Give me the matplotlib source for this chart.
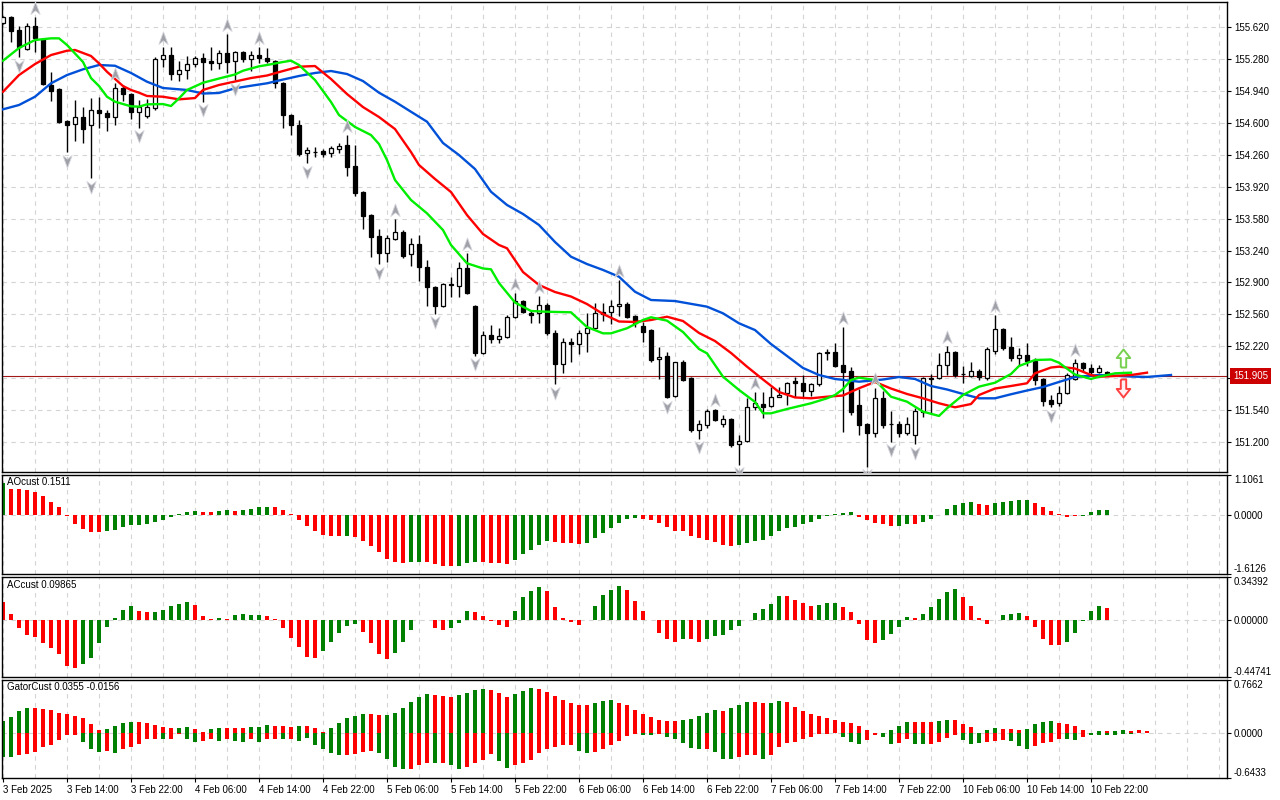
import numpy as np
import matplotlib.pyplot as plt
from matplotlib.path import Path
from matplotlib.transforms import offset_copy, blended_transform_factory

plt.rcParams['font.family'] = ['Liberation Sans', 'DejaVu Sans']
plt.rcParams['font.size'] = 7

# ---------------- data (USDJPY H1) ----------------
opens = [155.663, 155.727, 155.589, 155.386, 155.631, 155.493, 155.003, 154.960, 154.619, 154.587,
         154.662, 154.577, 154.736, 154.705, 154.662, 154.971, 154.907, 154.715, 154.673, 154.758,
         155.280, 155.322, 155.120, 155.163, 155.226, 155.290, 155.258, 155.237, 155.344, 155.258,
         155.354, 155.280, 155.322, 155.290, 155.258, 155.024, 154.683, 154.577, 154.279, 154.289,
         154.300, 154.279, 154.321, 154.364, 154.140, 153.863, 153.618, 153.395, 153.214, 153.363,
         153.437, 153.203, 153.309, 153.064, 152.851, 152.649, 152.878, 152.862, 153.054, 152.649,
         152.149, 152.340, 152.298, 152.319, 152.532, 152.702, 152.574, 152.574, 152.660, 152.362,
         152.031, 152.266, 152.244, 152.362, 152.415, 152.585, 152.585, 152.649, 152.670, 152.543,
         152.436, 152.393, 152.085, 152.117, 151.691, 152.053, 151.882, 151.329, 151.382, 151.542,
         151.392, 151.446, 151.179, 151.211, 151.573, 151.605, 151.584, 151.680, 151.723, 151.845,
         151.829, 151.744, 151.818, 152.159, 152.159, 152.021, 151.957, 151.595, 151.392, 151.297,
         151.669, 151.392, 151.392, 151.297, 151.275, 151.520, 151.872, 151.882, 152.021, 152.159,
         151.925, 151.904, 151.957, 151.882, 152.170, 152.404, 152.212, 152.095, 152.127, 152.063,
         151.872, 151.648, 151.616, 151.723, 151.872, 152.042, 151.989, 151.946, 151.950]
highs = [155.737, 155.737, 155.631, 155.663, 155.727, 155.503, 155.141, 154.971, 154.630, 154.843,
         154.768, 154.864, 154.875, 154.736, 155.024, 155.003, 154.918, 154.843, 154.854, 155.301,
         155.407, 155.407, 155.258, 155.312, 155.312, 155.344, 155.407, 155.376, 155.546, 155.365,
         155.365, 155.365, 155.407, 155.397, 155.269, 155.034, 154.694, 154.630, 154.342, 154.342,
         154.321, 154.353, 154.385, 154.470, 154.364, 153.873, 153.629, 153.469, 153.405, 153.576,
         153.458, 153.373, 153.405, 153.139, 152.862, 152.894, 152.958, 153.118, 153.214, 152.660,
         152.383, 152.447, 152.415, 152.553, 152.788, 152.713, 152.607, 152.756, 152.681, 152.393,
         152.308, 152.308, 152.393, 152.574, 152.681, 152.681, 152.713, 152.926, 152.692, 152.553,
         152.479, 152.404, 152.212, 152.159, 152.053, 152.074, 151.893, 151.435, 151.552, 151.552,
         151.488, 151.456, 151.275, 151.669, 151.733, 151.733, 151.786, 151.786, 151.840, 151.893,
         151.914, 151.829, 152.159, 152.191, 152.255, 152.425, 151.999, 151.765, 151.403, 151.776,
         151.744, 151.531, 151.424, 151.467, 151.563, 151.893, 151.925, 152.149, 152.223, 152.170,
         152.010, 152.053, 151.978, 152.212, 152.553, 152.415, 152.319, 152.202, 152.255, 152.095,
         151.882, 151.701, 151.797, 151.935, 152.085, 152.053, 152.031, 152.021, 151.960]
lows = [155.652, 155.461, 155.301, 155.376, 155.354, 155.003, 154.832, 154.598, 154.289, 154.406,
        154.385, 154.012, 154.545, 154.513, 154.577, 154.832, 154.641, 154.545, 154.651, 154.736,
        155.194, 155.056, 155.045, 155.067, 155.194, 154.822, 155.163, 155.173, 155.131, 155.056,
        155.248, 155.152, 155.237, 155.237, 154.971, 154.545, 154.470, 154.247, 154.172, 154.236,
        154.236, 154.236, 154.279, 154.034, 153.821, 153.469, 153.171, 153.096, 153.118, 153.352,
        153.160, 153.075, 152.916, 152.649, 152.564, 152.638, 152.745, 152.745, 152.777, 152.117,
        152.138, 152.255, 152.255, 152.308, 152.521, 152.574, 152.468, 152.468, 152.340, 151.818,
        151.935, 152.053, 152.138, 152.159, 152.404, 152.489, 152.457, 152.543, 152.521, 152.425,
        152.266, 152.053, 151.872, 151.669, 151.680, 151.850, 151.307, 151.233, 151.350, 151.424,
        151.360, 151.148, 150.956, 151.201, 151.542, 151.456, 151.573, 151.675, 151.595, 151.680,
        151.680, 151.691, 151.797, 152.074, 151.999, 151.307, 151.488, 151.275, 150.935, 151.254,
        151.350, 151.201, 151.254, 151.275, 151.179, 151.467, 151.510, 151.872, 151.914, 151.893,
        151.829, 151.893, 151.861, 151.861, 152.138, 152.181, 152.063, 152.010, 152.010, 151.808,
        151.584, 151.573, 151.584, 151.712, 151.861, 151.957, 151.925, 151.935, 151.900]
closes = [155.727, 155.578, 155.407, 155.631, 155.503, 155.013, 154.939, 154.609, 154.577, 154.662,
          154.534, 154.736, 154.705, 154.662, 154.971, 154.907, 154.715, 154.768, 154.768, 155.280,
          155.322, 155.120, 155.163, 155.226, 155.290, 155.248, 155.237, 155.344, 155.248, 155.354,
          155.280, 155.322, 155.290, 155.258, 155.024, 154.683, 154.577, 154.268, 154.310, 154.292,
          154.268, 154.332, 154.353, 154.130, 153.853, 153.608, 153.384, 153.214, 153.373, 153.437,
          153.182, 153.309, 153.064, 152.851, 152.649, 152.883, 152.885, 153.054, 152.788, 152.149,
          152.340, 152.298, 152.330, 152.532, 152.702, 152.585, 152.553, 152.660, 152.362, 152.031,
          152.266, 152.244, 152.362, 152.415, 152.574, 152.564, 152.649, 152.670, 152.532, 152.468,
          152.372, 152.074, 152.106, 151.680, 152.053, 151.861, 151.329, 151.392, 151.531, 151.435,
          151.446, 151.169, 151.211, 151.573, 151.616, 151.573, 151.680, 151.701, 151.829, 151.829,
          151.744, 151.818, 152.149, 152.149, 152.010, 151.946, 151.520, 151.382, 151.297, 151.669,
          151.382, 151.390, 151.297, 151.392, 151.531, 151.882, 151.886, 152.021, 152.159, 151.914,
          151.923, 151.957, 151.893, 152.191, 152.404, 152.202, 152.095, 152.127, 152.063, 151.861,
          151.637, 151.605, 151.723, 151.914, 152.042, 151.989, 151.946, 151.989, 151.905]

# Alligator lines (bar index, price)
jaw_bars = [0, 2, 4, 6, 8, 10, 12, 14, 16, 18, 20, 23, 25, 27, 29, 31, 33, 35, 37, 39,
            41, 43, 45, 47, 49, 51, 53, 55, 57, 59, 61, 63, 65, 67, 69, 71, 73, 75, 77, 79,
            81, 84, 88, 90, 92, 94, 96, 98, 100, 102, 104, 107, 110, 112, 114, 116, 118, 120, 122, 124,
            126, 128, 130, 132, 134, 137, 141, 143, 146]
jaw_vals = [154.744, 154.790, 154.878, 155.021, 155.109, 155.170, 155.216, 155.208, 155.131, 155.038,
            154.971, 154.950, 154.912, 154.918, 154.968, 154.995, 155.021, 155.061, 155.099, 155.131,
            155.152, 155.120, 155.045, 154.921, 154.825, 154.718, 154.612, 154.385, 154.257, 154.108,
            153.866, 153.725, 153.629, 153.512, 153.331, 153.174, 153.096, 153.033, 152.961, 152.801,
            152.713, 152.702, 152.642, 152.571, 152.465, 152.393, 152.244, 152.117, 151.989, 151.914,
            151.872, 151.843, 151.866, 151.893, 151.872, 151.797, 151.760, 151.712, 151.666, 151.666,
            151.709, 151.749, 151.786, 151.840, 151.893, 151.914, 151.898, 151.893, 151.914]
teeth_bars = [0, 2, 4, 6, 8, 9, 11, 12, 13, 15, 16, 17, 18, 20, 22, 24, 25, 27, 29, 31,
              33, 35, 37, 39, 41, 43, 45, 47, 49, 51, 52, 54, 56, 58, 60, 62, 63, 65, 67, 69,
              71, 73, 75, 77, 79, 81, 83, 85, 87, 89, 91, 93, 95, 97, 99, 101, 103, 105, 107, 109,
              111, 113, 115, 117, 119, 121, 122, 124, 126, 128, 129, 131, 132, 134, 136, 137, 139, 141, 143]
teeth_vals = [154.931, 155.109, 155.226, 155.322, 155.368, 155.376, 155.312, 155.234, 155.144, 154.992,
              154.950, 154.921, 154.886, 154.878, 154.850, 154.864, 154.950, 155.003, 155.040, 155.077,
              155.104, 155.152, 155.198, 155.205, 155.067, 154.907, 154.768, 154.662, 154.534, 154.289,
              154.151, 154.002, 153.863, 153.618, 153.416, 153.299, 153.264, 153.011, 152.873, 152.798,
              152.750, 152.670, 152.564, 152.484, 152.479, 152.500, 152.535, 152.489, 152.362, 152.276,
              152.149, 152.003, 151.866, 151.733, 151.675, 151.666, 151.683, 151.696, 151.773, 151.840,
              151.770, 151.712, 151.666, 151.613, 151.570, 151.605, 151.701, 151.770, 151.797, 151.826,
              151.932, 151.994, 152.003, 151.983, 151.914, 151.896, 151.904, 151.914, 151.939]
lips_bars = [0, 2, 4, 6, 7, 8, 10, 11, 12, 13, 14, 16, 17, 18, 20, 21, 22, 23, 25, 27,
             29, 30, 32, 33, 35, 36, 37, 39, 41, 42, 44, 46, 47, 48, 49, 51, 53, 55, 56, 58,
             60, 61, 62, 64, 66, 68, 71, 73, 75, 76, 78, 80, 81, 83, 85, 87, 88, 90, 92, 94,
             95, 96, 98, 101, 103, 104, 105, 106, 107, 109, 111, 113, 115, 117, 118, 120, 122, 124, 126, 127,
             129, 131, 132, 134, 136, 137, 139, 141]
lips_vals = [155.262, 155.397, 155.482, 155.500, 155.500, 155.429, 155.248, 155.077, 154.992, 154.878,
             154.825, 154.776, 154.772, 154.797, 154.800, 154.779, 154.861, 154.950, 155.027, 155.072,
             155.115, 155.155, 155.202, 155.216, 155.248, 155.262, 155.216, 155.056, 154.822, 154.683,
             154.556, 154.470, 154.374, 154.204, 153.991, 153.778, 153.636, 153.458, 153.299, 153.104,
             153.049, 153.040, 152.894, 152.686, 152.596, 152.588, 152.582, 152.425, 152.358, 152.358,
             152.412, 152.500, 152.529, 152.493, 152.372, 152.191, 152.145, 151.896, 151.755, 151.627,
             151.506, 151.506, 151.552, 151.613, 151.666, 151.701, 151.765, 151.861, 151.886, 151.861,
             151.683, 151.630, 151.524, 151.478, 151.560, 151.701, 151.790, 151.832, 151.925, 152.010,
             152.074, 152.079, 152.045, 151.919, 151.872, 151.896, 151.932, 151.939]

up_fractals = [4, 14, 20, 28, 32, 43, 49, 58, 64, 67, 77, 89, 94, 105, 109, 118, 124, 134]
down_fractals = [2, 8, 11, 17, 25, 29, 38, 47, 54, 59, 69, 83, 87, 92, 108, 111, 114, 131]

signal_bar = 140
buy_signal = 152.09
sell_signal = 151.78

ao_values = [0.90, 0.713, 0.713, 0.685, 0.639, 0.528, 0.361, 0.222, -0.028, -0.231,
             -0.37, -0.472, -0.472, -0.444, -0.417, -0.324, -0.278, -0.259, -0.241, -0.194,
             -0.139, -0.056, 0.046, 0.083, 0.13, 0.083, 0.083, 0.111, 0.139, 0.111,
             0.157, 0.185, 0.222, 0.222, 0.222, 0.139, 0.037, -0.139, -0.30, -0.44,
             -0.53, -0.575, -0.575, -0.575, -0.60, -0.71, -0.85, -1.02, -1.19, -1.28,
             -1.30, -1.28, -1.28, -1.28, -1.35, -1.39, -1.39, -1.39, -1.31, -1.28,
             -1.28, -1.30, -1.32, -1.35, -1.22, -1.07, -0.94, -0.81, -0.71, -0.74,
             -0.77, -0.77, -0.80, -0.77, -0.63, -0.49, -0.35, -0.21, -0.09, -0.075,
             -0.11, -0.14, -0.21, -0.33, -0.42, -0.44, -0.56, -0.63, -0.69, -0.74,
             -0.81, -0.83, -0.81, -0.77, -0.71, -0.67, -0.58, -0.44, -0.35, -0.31,
             -0.25, -0.19, -0.11, -0.02, 0.03, 0.05, 0.08, -0.05, -0.14, -0.21,
             -0.25, -0.30, -0.30, -0.25, -0.25, -0.19, -0.11, 0.01, 0.17, 0.28,
             0.33, 0.36, 0.31, 0.28, 0.33, 0.36, 0.40, 0.42, 0.42, 0.33,
             0.22, 0.11, 0.03, -0.04, -0.03, -0.02, 0.08, 0.14, 0.1511]
ao_colors = ("G" + "R" * 12 + "G" * 12 + "RR" + "GG" + "R" + "GGGG" + "R" * 9 + "G" + "R" * 7
             + "GG" + "RRRR" + "GGG" + "RRRR" + "GGGGG" + "RRRR" + "G" * 7 + "R" * 12 + "G" * 15
             + "RRRRR" + "GG" + "R" + "G" * 7 + "RR" + "GGGGG" + "R" * 6 + "GGGG")

ac_values = [0.15, 0.053, -0.061, -0.119, -0.132, -0.175, -0.22, -0.267, -0.357, -0.378,
             -0.347, -0.294, -0.175, -0.053, 0.018, 0.079, 0.111, 0.071, 0.063, 0.063,
             0.079, 0.111, 0.132, 0.143, 0.119, 0.032, 0.008, 0.018, 0.008, 0.04,
             0.048, 0.04, 0.04, 0.032, 0.008, -0.061, -0.14, -0.21, -0.29, -0.30,
             -0.24, -0.172, -0.10, -0.04, -0.026, -0.093, -0.18, -0.267, -0.307, -0.26,
             -0.172, -0.079, 0.003, 0.005, -0.061, -0.077, -0.061, -0.021, 0.071, 0.063,
             0.032, -0.005, -0.037, -0.053, 0.071, 0.183, 0.23, 0.262, 0.23, 0.103,
             0.016, -0.016, -0.037, 0.003, 0.111, 0.198, 0.243, 0.27, 0.238, 0.156,
             0.071, 0.003, -0.10, -0.148, -0.167, -0.143, -0.148, -0.167, -0.148, -0.125,
             -0.119, -0.079, -0.04, 0.005, 0.058, 0.087, 0.127, 0.19, 0.19, 0.159,
             0.135, 0.114, 0.119, 0.135, 0.135, 0.103, 0.063, -0.029, -0.151, -0.18,
             -0.151, -0.109, -0.053, 0.024, 0.016, 0.048, 0.103, 0.167, 0.225, 0.246,
             0.183, 0.111, 0.016, -0.029, 0.003, 0.04, 0.05, 0.056, 0.032, -0.053,
             -0.143, -0.198, -0.198, -0.172, -0.10, -0.005, 0.071, 0.111, 0.09865]
ac_colors = ("R" * 10 + "G" * 7 + "RR" + "GGGGG" + "RRR" + "G" + "R" + "GGGG" + "R" * 7
             + "GGGGG" + "RRRR" + "GGGGG" + "RR" + "GGG" + "RRRRR" + "GGGG" + "RRRRR" + "GGGGG"
             + "R" * 7 + "G" + "RR" + "G" * 10 + "RRRR" + "GGG" + "RRRRR" + "GGGG" + "R"
             + "GGGGG" + "RRRR" + "GGGG" + "RRRRR" + "GGGGG" + "R")

gator_up = [0.18, 0.24, 0.325, 0.37, 0.37, 0.35, 0.335, 0.288, 0.273, 0.253,
            0.22, 0.13, 0.047, 0.062, 0.105, 0.144, 0.167, 0.158, 0.144, 0.12,
            0.09, 0.081, 0.081, 0.09, 0.062, 0.023, 0.062, 0.081, 0.081, 0.081,
            0.081, 0.09, 0.09, 0.12, 0.105, 0.105, 0.09, 0.105, 0.10, 0.07,
            0.02, 0.07, 0.148, 0.215, 0.25, 0.28, 0.28, 0.265, 0.265, 0.29,
            0.365, 0.45, 0.527, 0.565, 0.55, 0.537, 0.518, 0.55, 0.58, 0.623,
            0.642, 0.623, 0.58, 0.522, 0.56, 0.608, 0.652, 0.642, 0.594, 0.537,
            0.475, 0.44, 0.41, 0.40, 0.43, 0.465, 0.48, 0.44, 0.40, 0.33,
            0.273, 0.235, 0.19, 0.177, 0.177, 0.19, 0.21, 0.25, 0.288, 0.335,
            0.32, 0.365, 0.407, 0.45, 0.45, 0.436, 0.436, 0.465, 0.45, 0.378,
            0.32, 0.278, 0.249, 0.22, 0.187, 0.158, 0.144, 0.105, 0.047, 0.005,
            0.01, 0.047, 0.105, 0.163, 0.163, 0.163, 0.163, 0.177, 0.19, 0.19,
            0.13, 0.09, 0.01, 0.047, 0.076, 0.058, 0.058, 0.047, 0.066, 0.13,
            0.163, 0.177, 0.144, 0.13, 0.105, 0.047, 0.005, 0.03, 0.03, 0.03,
            0.04, 0.03, 0.04, 0.0355]
gator_up_colors = ("GGGG" + "R" * 9 + "GGGG" + "RRRRR" + "GG" + "RR" + "GG" + "RRR" + "GGG"
                   + "RRR" + "G" + "RRR" + "GGGGG" + "RR" + "GGGGGG" + "RRR" + "GGGG" + "RRR"
                   + "GGG" + "R" * 7 + "GGG" + "R" * 8 + "GGGGG" + "R" + "GGG" + "RR" + "GG"
                   + "R" * 12 + "GGGG" + "RRR" + "GG" + "RRR" + "GGG" + "RRR" + "GGGG" + "RRRRR"
                   + "G" + "R" + "GG" + "RRR")
gator_down = [-0.336, -0.346, -0.312, -0.293, -0.264, -0.192, -0.168, -0.10, -0.024, -0.02,
              -0.12, -0.23, -0.264, -0.25, -0.279, -0.23, -0.192, -0.154, -0.077, -0.077,
              -0.087, -0.087, -0.015, -0.077, -0.12, -0.106, -0.087, -0.106, -0.082, -0.106,
              -0.12, -0.087, -0.12, -0.087, -0.077, -0.087, -0.077, -0.106, -0.063, -0.164,
              -0.23, -0.288, -0.308, -0.308, -0.293, -0.265, -0.255, -0.279, -0.365, -0.48,
              -0.518, -0.518, -0.46, -0.423, -0.43, -0.43, -0.46, -0.51, -0.49, -0.43,
              -0.38, -0.30, -0.40, -0.495, -0.46, -0.423, -0.38, -0.279, -0.22, -0.193,
              -0.173, -0.173, -0.25, -0.288, -0.265, -0.22, -0.173, -0.11, -0.043, -0.014,
              -0.02, -0.02, -0.005, -0.049, -0.078, -0.135, -0.207, -0.23, -0.22, -0.27,
              -0.365, -0.365, -0.336, -0.317, -0.317, -0.365, -0.308, -0.193, -0.135, -0.12,
              -0.078, -0.049, -0.014, -0.005, -0.003, -0.049, -0.12, -0.15, -0.092, -0.02,
              -0.049, -0.15, -0.135, -0.078, -0.15, -0.15, -0.15, -0.12, -0.063, -0.02,
              -0.092, -0.15, -0.135, -0.12, -0.106, -0.092, -0.106, -0.178, -0.22, -0.178,
              -0.135, -0.12, -0.078, -0.078, -0.092, -0.049, -0.02, -0.02, -0.03, -0.02,
              -0.015, -0.0156]
gator_down_colors = ("GG" + "R" * 8 + "GGG" + "R" + "G" + "RRRRR" + "G" + "RR" + "GG" + "RR" + "G"
                     + "R" + "GG" + "R" + "G" + "RR" + "G" + "R" + "GGGGGG" + "RRRR" + "GGGG" + "RRR"
                     + "G" + "R" + "GG" + "RRRR" + "GG" + "R" * 8 + "GG" + "R" * 6 + "GG" + "R"
                     + "GGGGG" + "R" + "GGG" + "RRR" + "G" + "R" * 9 + "GGG" + "RR" + "GG" + "RR"
                     + "GG" + "RRRR" + "GGG" + "RRR" + "GGG" + "RRRR" + "GG" + "R" + "GGGGGG")

price_ticks = [155.620, 155.280, 154.940, 154.600, 154.260, 153.920, 153.580, 153.240,
               152.900, 152.560, 152.220, 151.880, 151.540, 151.200]
time_labels = ["3 Feb 2025", "3 Feb 14:00", "3 Feb 22:00", "4 Feb 06:00", "4 Feb 14:00",
               "4 Feb 22:00", "5 Feb 06:00", "5 Feb 14:00", "5 Feb 22:00", "6 Feb 06:00",
               "6 Feb 14:00", "6 Feb 22:00", "7 Feb 06:00", "7 Feb 14:00", "7 Feb 22:00",
               "10 Feb 06:00", "10 Feb 14:00", "10 Feb 22:00"]
label_bars = [8 * k for k in range(len(time_labels))]

# ---------------- figure ----------------
GREEN = '#008000'
RED = '#ff0000'
GRID = '#d4d4d4'
cmap = {'G': GREEN, 'R': RED}

fig = plt.figure(figsize=(12.8, 8), dpi=100)
left, width = 2 / 1280, 1225 / 1280
ax = fig.add_axes([left, 1 - 472 / 800, width, 470 / 800])
ax_ao = fig.add_axes([left, 1 - 574 / 800, width, 99 / 800])
ax_ac = fig.add_axes([left, 1 - 677 / 800, width, 100 / 800])
ax_gt = fig.add_axes([left, 1 - 778 / 800, width, 98 / 800])
axes = [ax, ax_ao, ax_ac, ax_gt]

for a in axes:
    a.set_xlim(-0.125, 153)
    for b in range(0, 154, 4):
        a.axvline(b, color=GRID, lw=0.8, ls=(0, (4, 4)), zorder=0)
    for s in a.spines.values():
        s.set_color('black')
        s.set_linewidth(1)
    a.yaxis.tick_right()
    a.tick_params(axis='y', length=3, pad=2, labelsize=7, colors='black')
    a.tick_params(axis='x', length=0)
    a.set_xticks([])

# ---- main price panel ----
ax.set_ylim(150.881, 155.887)
for p in price_ticks:
    ax.axhline(p, color=GRID, lw=0.8, ls=(0, (4, 4)), zorder=0)
ax.set_yticks(price_ticks)
ax.set_yticklabels(['' if abs(p - 151.880) < 1e-6 else f'{p:.3f}' for p in price_ticks])

bars = np.arange(len(opens))
o, h, l, c = map(np.array, (opens, highs, lows, closes))
bull = c >= o
ax.vlines(bars, l, h, color='black', lw=1, zorder=2)
body_lo = np.minimum(o, c)
body_h = np.abs(c - o)
ax.bar(bars[bull], body_h[bull], bottom=body_lo[bull], width=0.6,
       color='white', edgecolor='black', lw=0.9, zorder=3)
ax.bar(bars[~bull], body_h[~bull], bottom=body_lo[~bull], width=0.6,
       color='black', edgecolor='black', lw=0.9, zorder=3)

ax.plot(jaw_bars, jaw_vals, color='#0050d8', lw=1.7, zorder=4)
ax.plot(teeth_bars, teeth_vals, color='#ff0000', lw=1.7, zorder=4)
ax.plot(lips_bars, lips_vals, color='#00ee00', lw=1.7, zorder=4)

# fractals
frac_up = Path([(0, 1), (0.7, -0.9), (0, -0.35), (-0.7, -0.9), (0, 1)],
               [Path.MOVETO, Path.LINETO, Path.LINETO, Path.LINETO, Path.CLOSEPOLY])
frac_dn = Path([(0, -1), (0.7, 0.9), (0, 0.35), (-0.7, 0.9), (0, -1)],
               [Path.MOVETO, Path.LINETO, Path.LINETO, Path.LINETO, Path.CLOSEPOLY])
tr_up = offset_copy(ax.transData, fig=fig, x=0, y=9, units='dots')
tr_dn = offset_copy(ax.transData, fig=fig, x=0, y=-8.5, units='dots')
ax.plot(up_fractals, h[up_fractals], ls='none', marker=frac_up, ms=9.5,
        mfc='#a0a0a8', mec='#d4d4dc', mew=0.6, transform=tr_up, zorder=6)
ax.plot(down_fractals, l[down_fractals], ls='none', marker=frac_dn, ms=9.5,
        mfc='#a0a0a8', mec='#d4d4dc', mew=0.6, transform=tr_dn, zorder=6)

# last price line and label
last = closes[-1]
ax.axhline(last, color='#a01818', lw=0.8, zorder=1)
tr_lbl = offset_copy(blended_transform_factory(ax.transAxes, ax.transData),
                     fig=fig, x=6, y=0, units='dots')
ax.text(1.0, last, f'{last:.3f}', transform=tr_lbl, ha='left', va='center',
        color='white', fontsize=7, clip_on=False, zorder=10,
        bbox=dict(boxstyle='square,pad=0.3', fc='#cc0000', ec='none'))

# signal arrows
arrow_up = Path([(-0.3, -1), (0.3, -1), (0.3, 0.05), (0.75, 0.05), (0, 1),
                 (-0.75, 0.05), (-0.3, 0.05), (-0.3, -1)])
arrow_dn = Path([(-0.3, 1), (0.3, 1), (0.3, -0.05), (0.75, -0.05), (0, -1),
                 (-0.75, -0.05), (-0.3, -0.05), (-0.3, 1)])
ax.plot([signal_bar], [buy_signal], marker=arrow_up, ms=13, mfc='white',
        mec='#78d050', mew=1.4, ls='none', zorder=6)
ax.plot([signal_bar], [sell_signal], marker=arrow_dn, ms=13, mfc='#fff0f4',
        mec='#ff4040', mew=1.4, ls='none', zorder=6)


# ---- oscillator panels ----
def setup_panel(a, lo, hi, fmt, title):
    a.set_ylim(lo, hi)
    a.axhline(0, color=GRID, lw=0.8, ls=(0, (4, 4)), zorder=0)
    a.set_yticks([lo, 0.0, hi])
    a.set_yticklabels([fmt.format(lo), fmt.format(0.0), fmt.format(hi)])
    tl = a.get_yticklabels()
    tl[0].set_va('bottom')
    tl[2].set_va('top')
    a.text(0.004, 0.975, title, transform=a.transAxes, ha='left', va='top', fontsize=7)


ao_x = np.arange(len(ao_values))
ax_ao.bar(ao_x, ao_values, width=0.6, color=[cmap[k] for k in ao_colors], zorder=2)
setup_panel(ax_ao, -1.6126, 1.1061, '{:.4f}', f'AOcust {ao_values[-1]:.4f}')

ac_x = np.arange(len(ac_values))
ax_ac.bar(ac_x, ac_values, width=0.6, color=[cmap[k] for k in ac_colors], zorder=2)
setup_panel(ax_ac, -0.44741, 0.34392, '{:.5f}', f'ACcust {ac_values[-1]:.5f}')

gu_x = np.arange(len(gator_up))
gd_x = np.arange(len(gator_down))
ax_gt.bar(gu_x, gator_up, width=0.6, color=[cmap[k] for k in gator_up_colors], zorder=2)
ax_gt.bar(gd_x, gator_down, width=0.6, color=[cmap[k] for k in gator_down_colors], zorder=2)
setup_panel(ax_gt, -0.6433, 0.7662, '{:.4f}',
            f'GatorCust {gator_up[-1]:.4f} {gator_down[-1]:.4f}')

ax_gt.set_xticks(label_bars)
ax_gt.set_xticklabels(time_labels, ha='left', fontsize=7)
ax_gt.tick_params(axis='x', length=3, pad=2, direction='out')

fig.savefig('out.png', dpi=100)
